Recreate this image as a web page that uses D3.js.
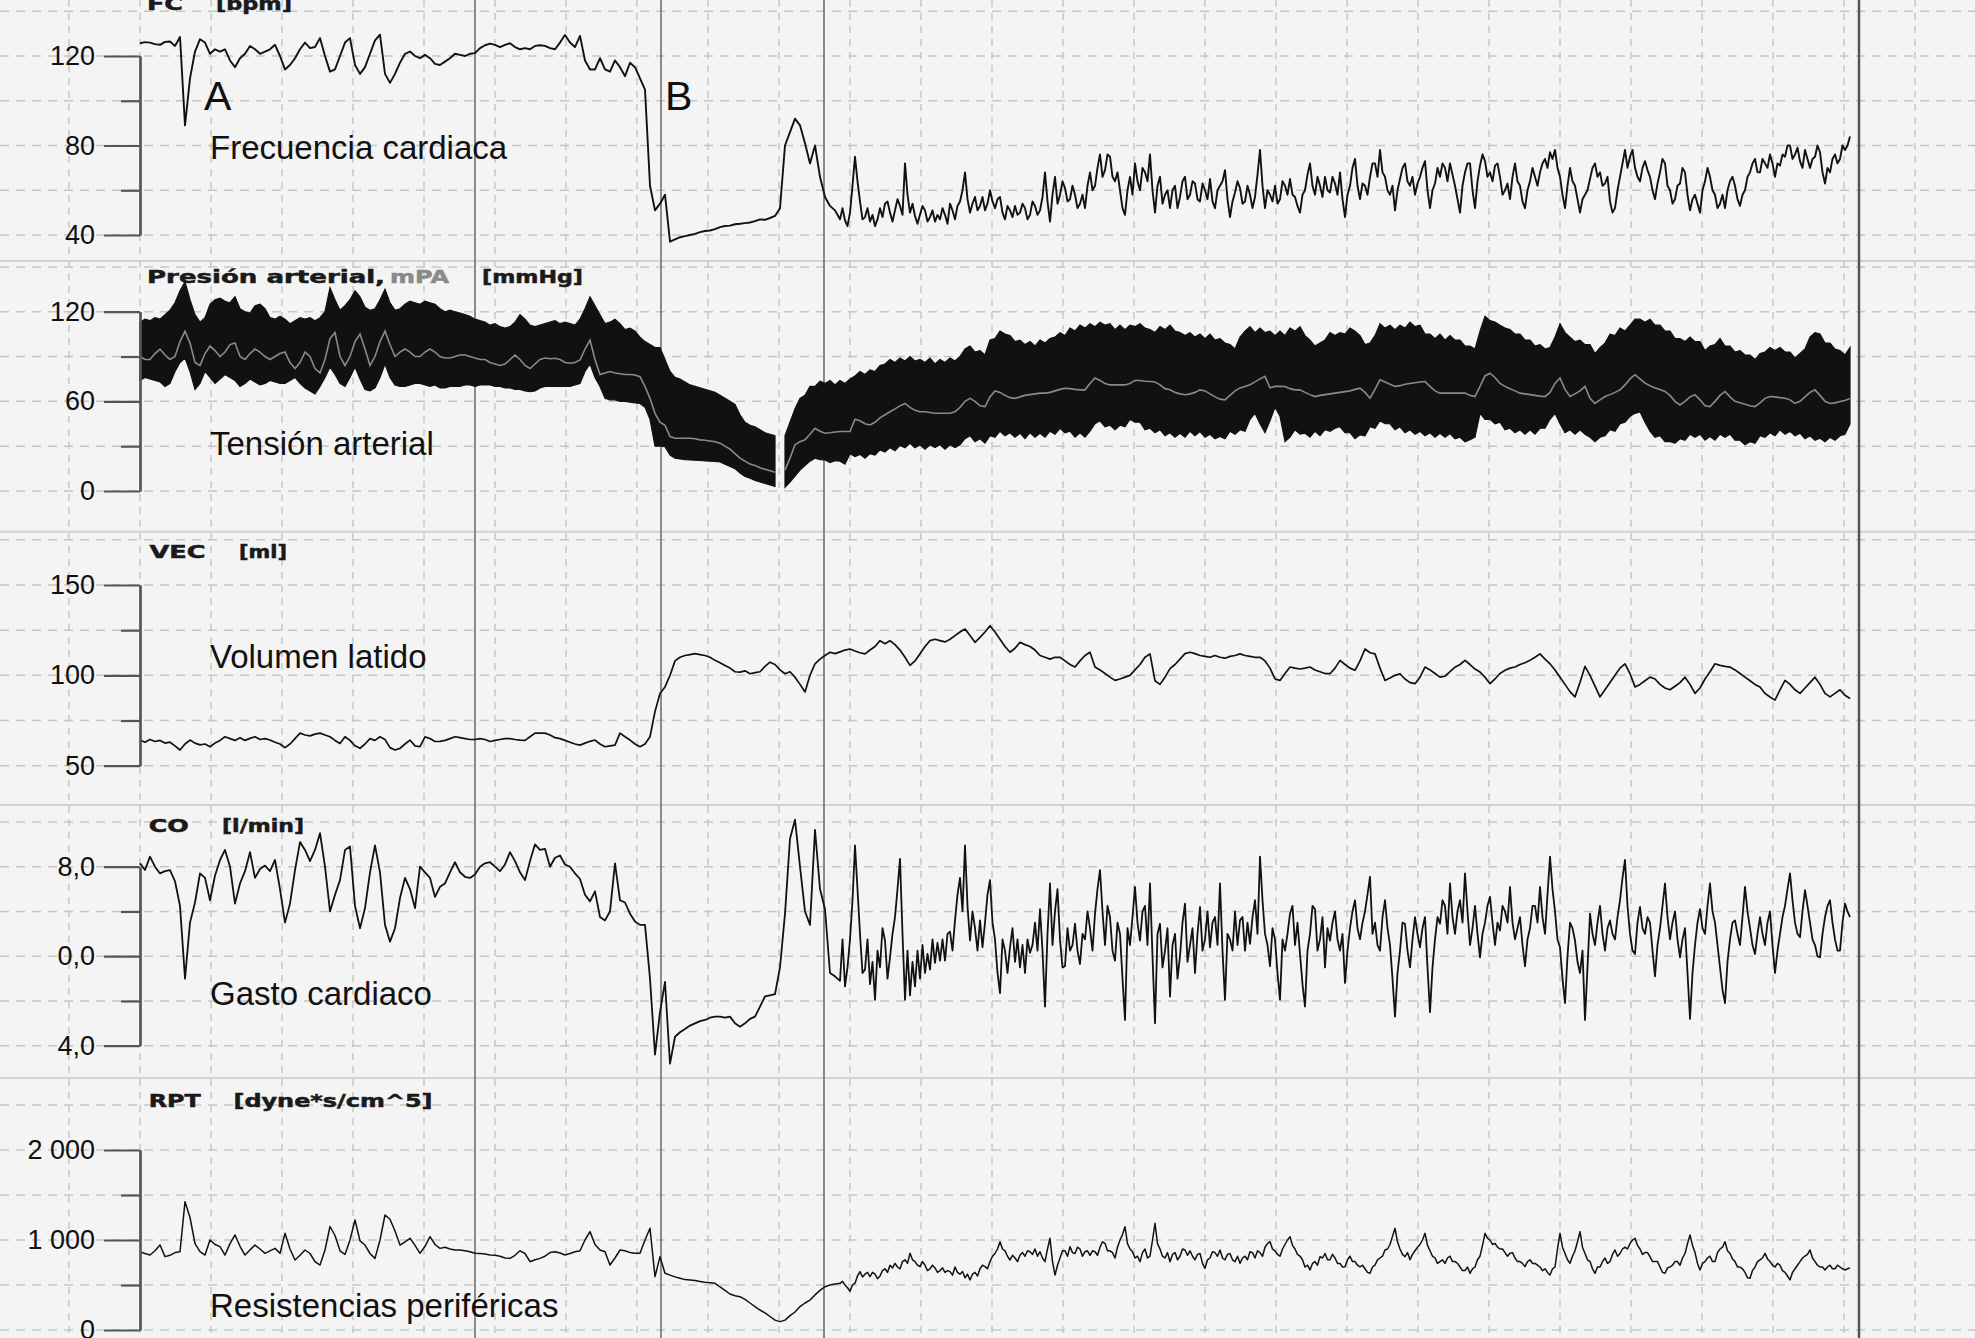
<!DOCTYPE html>
<html><head><meta charset="utf-8">
<script src="https://cdn.jsdelivr.net/npm/d3@7"></script>
<style>html,body{margin:0;padding:0;background:#f4f4f4;} svg{display:block;}</style>
</head><body>
<svg id="chart" width="1975" height="1338"></svg>
<script>
// ---------- DATA (one sample per time step) ----------
const fcValues = [
125.7,126.2,126,125.3,125,126.3,126.5,124.5,128.5,89,
110,122,127.5,126,121,123,122,123,118,115,
119,121,124.5,123,121,122,123,125,120,114,
116,119,123,126,123.5,124,128,120,113,114,
120,126,128,116,112,115,121,127,129.5,112,
108,112,117,121,122,120,119,120.5,119,116.5,
116,117.5,119,121,120.5,120,121,121.3,123.5,124.8,
125.5,125,124,125,125.7,124,123,123.5,123,124.5,
124.8,124.5,123.5,123,126,129.4,126,124,129,118,
114,114,119,114,113,118,115,111,117,115,
110,105,62,51,54,58,37,38,39,39.5,
40,40.5,41.3,41.8,42,42.6,43.5,44,44.2,44.8,
45,45.3,45.6,46.2,47,46.8,47.6,48.5,52,80,
86,92,89,81,72,80,66,57,53,51,
47,46.5,50,75,55,48,46,44,52,54,
50,51,53,72,50,48.5,49,51,48,46,
47,49,54,47,55,68,50,57,53,51,
60,52,57,47,51,53,50,52,49,53,
51,68,46,66,58,61,56,58,54,52,
68,62,76,69,75,64,60,49,66,72,
60,68,76,50,66,58,52,62,57,66,
58,63,55,60,65,52,62,69,48,59,
61,55,58,57,78,52,58,62,56,62,
65,57,50,60,72,58,62,66,59,63,
68,48,62,74,56,62,66,72,78,66,
58,51,65,72,62,58,66,73,52,63,
66,70,72,62,50,68,72,52,71,73,
68,71,66,60,56,72,62,52,64,66,
68,74,77,78,66,52,70,62,50,58,
65,72,68,63,55,52,66,78,75,70,
64,73,66,56,68,72,60,56,63,68,
51,58,50,64,66,58,54,52,64,62,
53,60,68,74,68,72,76,66,71,75,
80,76,73,78,70,75,77,63,68,76,
74,78,84];
// half-step readings in the dense part (from step 140 on)
const fcMid = [
52,44,62,64,47,52,49,47,48,55,
46,56,49,58,54,45,53,46,51,49,
52,45,51,53,60,56,54,51,57,54,
55,56,50,53,48,49,54,47,55,49,
57,55,58,54,64,55,62,52,58,62,
60,70,66,76,66,68,52,60,58,64,
70,64,60,62,54,60,60,52,64,56,
64,56,63,56,55,60,64,56,55,64,
54,62,52,67,62,60,55,54,64,58,
58,53,58,67,62,66,57,60,66,58,
56,58,70,62,63,58,72,66,68,60,
62,60,70,64,66,63,70,60,60,70,
72,64,67,56,62,72,60,64,76,66,
64,72,58,63,66,64,55,60,70,62,
72,70,74,70,58,62,64,56,56,60,
70,66,62,66,50,60,72,70,78,66,
70,69,60,63,74,62,54,62,70,58,
56,54,60,70,60,52,58,60,66,56,
58,66,72,68,74,70,72,72,76,80,
74,79,70,74,74,80,68,70,74,72,
80,80];

const paUpper = [
113,115,114,116,115,118,121,126,134,140,
128,118,113,116,125,128,129,127,126,130,
122,120,119,124,125,122,116,115,117,115,
112,114,116,115,116,114,116,120,136,128,
121,124,128,134,130,123,121,122,128,135,
126,121,122,125,127,126,125,127,126,125,
122,120,121,120,119,118,117,115,114,113,
111,112,110,109,110,113,118,115,111,110,
111,112,113,114,112,113,112,111,115,122,
130,124,118,112,113,115,112,108,109,107,
103,100,98,96,96,88,80,76,75,73,
71,70,69,68,67,66,64,62,60,58,
51,46,44,43,41,39,38,37,null,37,
46,55,62,64,70,70,73.5,72,74,71,
74,72,75,77,80,78,81,80,84,85,
88,86,89,87,90,87,88,86,89,85,
88,86,89,87,90,95,97,93,94,91,
101,102,107,105,104,100,101,98,100,97,
101,99,102,103,106,104,109,107,111,109,
112,110,113,111,112,108,111,108,111,110,
112,109,108,106,110,108,111,107,106,104,
106,103,105,102,105,101,102,99,98,95,
103,107,110,106,109,106,107,104,107,104,
109,107,110,104,101,97,99,101,106,104,
106,105,109,107,104,98,99,104,112,109,
111,108,111,109,113,110,111,105,105,102,
105,101,104,101,101,97,97,95,107,117,
114,113,111,109,108,105,105,101,101,97,
98,95,96,103,112,106,103,100,101,98,
98,92,96,99,105,104,109,107,111,115,
115,113,115,111,111,107,107,102,102,100,
103,100,100,94,97,98,102,97,97,93,
94,91,91,88,92,93,96,94,96,93,
93,89,92,95,103,106,105,99,99,95,
94,91,96];

const paLower = [
74,76,75,74,73,70,72,80,86,89,
80,68,72,80,76,72,75,78,76,74,
70,72,75,73,71,72,74,73,72,72,
74,76,72,69,67,65,70,76,83,78,
72,70,76,83,75,68,67,69,76,85,
76,71,70,70,71,72,72,71,70,71,
69,69,70,70,70,71,71,70,71,71,
71,70,70,69,69,68,68,67,66.5,67,
69,70,70,70,70,70,70,71,72,80,
85,76,70,62,61,61,60,60,59.5,59,
58.6,56,48,30,30,29.7,24,21.9,21.5,21,
20.8,20.6,20.4,20.2,20,19.8,19.5,18,16.5,15,
12,9.7,8.5,7,6,5,4,3,null,2.5,
6,10,14,17,20,22,21,20.8,19,20.3,
20,18,25,23,24.5,22,25,24,27.5,26,
29,27,30.5,29,32,29,31,28,31,29,
31,28,31,29,31,35,37,33,35,32,
37,36,40,37,39,36,38.7,35,39,36,
38.7,36,40,38,42,39,40,36,39,36,
40,45,47,43,44,41,44,43,48,46,
46,41,42,39,41,37,39,36,38.7,36,
40,37,39.8,36,38,35,36.5,35,40,38,
41,40,48,52,45,39,47,56,50,33,
36,41,38,38.7,36,40,37,41,40,42,
43,39,39,35,37.6,37,43,42,47,45,
45,41,43,39,41,38,40,37,39,36,
38.7,36,38.5,35,36,33,34.3,36,52,48,
48,45,46,41,42,39,41,38,41,38,
42,42,48,52,45,39,41,38,41,38,
36,33,36,37,41,40,45,46,50,52,
53,46,40,36,37,33,33,32,35,34,
38,36,38,34,36.5,34,38,36,38,34,
34,31,33,32,37,36,39,37,41,38,
40,37,38.7,35,37,34,35.3,33,36,34,
37,38,45];

const paMean = [
90,88,88,92,95,91,88,90,100,107,
99,86,84,92,97,94,90,93,98,99,
90,88,92,95,93,90,88,90,92,93,
86,82,86,93,90,82,79,88,102,106,
90,84,90,100,105,95,84,90,100,107,
98,90,93,95,93,90,90,93,95,93,
90,89,89,90,91,91,90,89,88,88,
86,85,84,85,88,91,88,84,82,85,
88,89,88.5,88.8,88,86,85.5,86,87.7,95,
101,88,78,79,80,79,78.5,78,78,77.6,
76.5,70,62,52,46,44,36.4,35.3,35.3,35.3,
35.3,35,34.2,34,33.5,33,32,30,28,25,
22,20,18,17,15.5,14.5,13.5,12.5,null,14,
22,31,33,34.3,38,42,40,38.7,39,39.5,
39.8,39.8,39.8,48,47,45,44.2,46,49,51,
53,55,57,58.6,56,54,53,53,52.5,52,
52,52,52,53,56,60,62,60,57,56.5,
63,67,66,64,62.5,62,63,64,64.5,65,
65.5,65.5,66,67,68,68.8,68.5,68,67.7,67.7,
72,75.6,74,72,71,71,71,71,72,74,
74,73.5,73.3,73,71,68.5,67.7,66,65,64.4,
65,66,67.7,67,65,63,61.5,61,64,67,
69,70,71.1,73,75,76.7,69,70,70,69.9,
68.5,67.7,67.7,66,64.5,63.2,64,64.5,65,65.5,
66,66.5,67,68,68.8,66,62.1,68,74.4,73,
71.5,70,70.5,71.5,72,72.5,73,73.3,70,67,
65.5,65.5,65.5,65.5,65.5,65.5,64,63.2,70,77,
78.8,76,72,70,68.5,67,65.5,65,64.5,64,
63.5,63.2,66,72,75.6,68,63.2,65,67,70,
62,58.6,61,63.2,64.5,66,67.7,71,75,77.8,
75,72.2,70.5,69,68,66.6,64,60,57.6,60,
63,64.4,61,57,56.5,60,64,66.6,63,60,
59,58,57,56.5,59,62,63.2,63,62.5,62.1,
61,58.6,60,63,66,67.7,64,60,58.6,59,
59.9,60.5,62];

const vecValues = [
64.2,63,64.5,63.4,64,62.5,63,61,58.7,62,
64.2,62.5,61.5,62,60.5,62.5,64,66,65,64,
65.5,64,65.1,66,64.5,65,64.2,63,62,60,
62,65,68,67,66.5,67.5,68,67,66,64,
62.3,66,64,61,59.6,62,65,64,66,64.5,
60,58.7,59.6,62,64.2,61,60.5,66,65,63.4,
63.5,64,65,66,65.5,65,64.5,64.5,65,64.5,
63.4,64,64.5,65,65,64.5,64.2,64,66,68,
68,68,67,65.5,65,64,63,62,61.4,62.5,
63.5,64.2,62,60.5,61,61.4,68,66,64.2,62,
60.5,62,66,80,90,93.6,100,108,110,111,
111.5,112,111.5,111,110,108.3,107,105.5,104,102,
101.8,102.5,100.9,101.5,102,105,107.3,106,103,100.9,
102,99,95,90.8,100,106.4,109,111,112.8,112,
113,114,114.6,113.5,112.5,111.9,114,116,119.2,117.5,
119.2,117,114,110,105.5,108,112,116,119.2,120,
119.2,118.5,120,122,124,125.7,122,118.3,121,124,
127.5,124,120,116,112.8,115,118.3,117,116,114,
111,110,109,110,110,108,106,104.6,108,111,
112.8,104.6,103,101,99,97.2,98,99,100,103,
106,110,111.9,97,95,99,103.7,106,109,112,
112.8,112,111,110.5,110,111,110,109.5,110.5,111,
111.9,111,110.5,110,110,108,104,98,97.2,101,
104.6,104,103.5,104,104.6,103,102,101,100.9,104,
108.3,106,104,102.8,108,114.6,112.5,111.9,104,97.2,
98.5,100,100.9,98,96,95.4,99,104.6,103,101,
99,99.5,102,104.5,106,108.3,106,103.5,101.8,99,
95.4,98,101,102.8,104,104.6,106,107,108.3,110,
111.9,109,106.4,103,99,95,91,88.1,96,105,
100,94,88.1,92,96,100,104,106.4,101,93.6,
95,97,99,98,95,93,92,94,96,99,
95,90,93,98,102,106.4,105.5,105,104.6,103,
101,99,97,95,93.6,90,88,86.3,92,97.2,
95,92,90,93,96,99,95,90,88.1,90,
92,89,87.2];

const coValues = [
8.3,7.7,8.9,8.0,7.4,7.6,7.7,6.7,4.5,-2.0,
3.0,4.8,7.4,7.0,5.0,7.2,8.6,9.5,8.0,4.7,
6.5,7.6,9.3,7.0,7.8,8.1,7.6,8.6,6.0,3.0,
4.7,7.7,10.2,9.5,8.5,9.5,11.0,8.0,4.0,5.5,
6.8,9.5,9.8,4.5,2.5,4.3,7.5,9.9,7.5,2.8,
1.3,2.5,5.2,7.0,6.0,4.3,8.0,7.5,7.0,5.3,
6.2,6.5,7.5,8.4,7.5,7.1,7.0,7.3,8.0,8.3,
8.4,8.0,7.6,8.2,9.3,8.5,7.5,6.8,8.5,10.0,
9.5,9.6,8.0,8.8,9.0,8.2,8.0,7.4,6.9,5.5,
4.9,5.8,3.5,3.2,4.0,8.3,5.0,4.8,3.8,3.1,
2.8,2.8,-2.0,-8.8,-5.0,-2.3,-9.6,-7.2,-6.8,-6.5,
-6.2,-6.0,-5.8,-5.7,-5.5,-5.4,-5.4,-5.5,-5.4,-6.0,
-6.3,-6.0,-5.6,-5.4,-4.5,-3.6,-3.5,-3.4,-1.0,3.8,
10.5,12.2,8.0,4.0,2.8,11.3,6.0,4.2,-1.5,-1.8,
-2.2,-2.7,1.5,9.9,2.0,-1.2,-2.5,-3.9,-1.0,1.4,
-0.1,3.5,8.7,-3.9,-3.5,-2.7,-2.0,-1.5,-1.2,-0.6,
-0.4,-0.4,2.2,3.2,7.0,9.9,1.4,2.5,3.2,3.0,
6.8,1.5,-3.3,0.5,0.8,-0.5,-1.0,-1.5,0.3,3.0,
4.2,-4.5,6.5,4.0,1.5,-0.9,0.5,2.9,-0.7,1.5,
2.5,3.8,7.7,1.0,3.5,-0.4,2.0,-5.7,1.0,6.2,
1.4,4.5,6.5,-6.0,2.9,0.5,-3.6,2.0,0.0,4.7,
1.0,-1.5,4.4,1.5,0.8,3.5,6.5,-3.9,1.5,4.0,
3.2,0.5,1.1,5.0,8.9,2.0,-0.9,1.5,-3.9,0.5,
3.8,1.0,0.2,-4.5,2.0,4.2,1.5,-1.0,1.4,4.0,
0.5,-2.4,2.5,5.0,1.5,4.0,7.1,3.0,0.5,5.0,
1.0,-5.4,0.5,2.9,-1.0,3.5,0.8,3.5,-5.0,1.5,
2.9,4.5,6.5,2.0,5.0,7.4,1.0,4.5,-0.1,3.0,
5.3,1.0,2.3,4.0,6.2,1.5,3.5,-0.9,2.5,4.5,
6.2,2.0,8.9,4.0,0.8,-4.2,3.0,1.4,-1.5,-5.7,
3.8,1.0,4.5,0.5,3.2,1.5,5.0,8.6,2.0,0.2,
4.4,2.0,3.0,-1.8,2.5,6.5,1.5,4.0,-0.1,2.5,
-5.6,1.0,4.2,2.0,6.5,3.0,-1.0,-4.2,1.5,3.2,
1.0,6.2,2.5,0.2,3.5,1.0,4.0,-1.5,2.0,4.5,
7.4,3.0,1.7,5.9,3.0,1.0,-0.1,3.5,5.0,1.5,
0.5,4.7,3.5];
const coMid = [
1.5,-1.0,5.0,6.0,-1.5,1.5,-0.5,0.5,2.5,-2.0,
2.0,6.0,2.0,0.5,-0.5,0.5,1.0,0.2,1.5,1.2,
1.5,2.0,0.5,5.5,4.0,4.5,4.0,0.5,0.8,5.5,
3.0,-1.5,1.5,-1.5,2.5,1.5,1.0,1.5,1.0,0.5,
0.5,2.0,1.0,6.0,-1.0,2.5,1.0,0.5,2.0,4.0,
0.5,6.0,4.0,4.5,0.5,3.0,-2.0,2.5,3.5,3.0,
4.0,1.0,0.0,2.0,-1.0,2.5,1.0,-2.0,3.0,-0.5,
2.5,2.0,0.5,4.0,3.0,1.0,0.5,2.0,0.5,1.0,
3.5,3.0,3.5,2.0,5.0,1.0,2.5,-1.5,1.5,2.0,
4.5,3.0,-2.5,0.5,4.5,0.5,3.5,2.5,3.0,1.5,
2.0,0.5,4.0,2.5,3.0,5.5,2.0,1.0,3.5,2.5,
-2.0,-1.5,3.0,0.5,1.5,2.0,2.5,-1.0,-1.0,3.5,
5.0,2.0,3.5,4.0,3.0,4.0,2.5,2.0,2.0,4.5,
3.0,3.0,4.5,3.0,3.0,2.5,1.0,1.5,4.5,3.0,
3.5,5.5,6.0,1.5,-2.0,0.0,2.5,-0.5,0.5,-1.0,
2.0,3.0,2.0,2.5,2.0,3.5,7.0,4.5,0.5,3.0,
2.5,3.5,0.5,1.0,4.5,3.5,3.0,1.5,1.5,-1.5,
-1.5,3.0,2.5,4.5,4.0,1.0,-3.0,-0.5,3.0,2.0,
3.5,4.0,1.0,2.0,2.0,3.0,1.0,0.5,3.5,6.0,
5.0,2.0,4.0,4.5,1.5,0.0,2.0,4.5,3.0,0.5,
3.0,4.0];

const rptValues = [
870,850,833,880,944,815,830,860,870,1426,
1250,960,870,833,1000,950,926,833,960,1056,
930,833,890,944,900,852,880,907,852,1074,
900,778,830,889,850,760,722,889,1150,1050,
880,840,1000,1222,990,944,850,796,1000,1278,
1230,1100,944,980,1019,940,852,930,1037,950,
907,920,900,890,889,880,870,852,850,845,
833,830,820,800,796,830,880,850,759,780,
796,820,860,870,855,833,850,870,880,1000,
1093,950,889,870,722,800,889,880,860,852,
852,1000,1130,593,815,630,610,590,575,560,
556,550,540,530,525,519,480,440,400,380,
370,340,300,260,222,190,150,110,93,110,
160,200,260,300,333,390,440,481,500,510,
519,500,430,520,648,620,593,620,600,680,
720,741,680,780,852,760,704,720,680,690,
660,640,648,700,620,580,556,640,680,704,
760,850,981,880,778,800,830,820,870,900,
870,760,1019,611,800,880,926,850,900,870,
830,870,920,963,880,800,1000,1148,900,800,
759,900,820,1185,900,800,759,860,820,889,
880,780,850,685,800,860,889,780,850,760,
741,820,870,800,860,920,981,880,820,950,
1037,900,820,700,667,760,815,850,780,800,
740,704,820,760,700,680,630,720,800,889,
950,1130,900,815,780,880,950,1074,880,800,
760,741,820,760,700,660,630,700,820,1074,
1000,963,900,860,852,800,760,704,780,740,
700,680,611,700,1074,850,741,880,1093,850,
760,630,700,800,760,889,850,920,960,1019,
900,860,815,760,700,630,700,760,720,850,
1056,860,667,760,820,760,900,981,850,760,
700,640,574,700,780,852,760,700,720,640,
556,680,760,820,889,760,700,667,720,680,
700,667,690];
const rptMid = [
540,470,500,600,590,640,640,570,660,640,
690,700,760,740,780,720,760,660,720,640,
690,660,610,640,650,620,620,600,720,680,
820,900,900,820,830,760,860,880,840,820,
800,900,760,720,880,820,860,920,820,880,
880,830,980,880,860,920,1060,960,870,820,
860,800,1000,960,820,860,840,780,900,830,
820,840,740,780,870,820,800,840,780,820,
800,780,860,880,820,960,900,840,900,1000,
940,840,780,720,740,720,800,780,840,740,
700,780,760,720,720,640,700,780,820,900,
1040,980,840,860,840,920,1000,940,820,740,
780,800,760,740,660,700,680,780,940,1020,
950,920,900,820,860,760,740,760,740,720,
660,640,680,900,920,780,820,980,920,780,
680,700,760,740,840,820,900,900,1000,940,
840,860,760,760,640,690,720,760,800,960,
940,740,740,800,760,860,920,880,790,700,
680,580,660,760,800,790,720,740,660,600,
640,720,800,840,800,720,700,700,680,720,
680,680];
const midStart = 140; // first time step followed by a half-step reading

// event markers (time steps)
const eventTimes = [67, 104.2, 136.8, 343.8];

// axis ticks
const fcTicks = [40, 80, 120], fcTickLabels = ["40", "80", "120"], fcMinor = [60, 100];
const paTicks = [0, 60, 120], paTickLabels = ["0", "60", "120"], paMinor = [30, 90];
const vecTicks = [50, 100, 150], vecTickLabels = ["50", "100", "150"], vecMinor = [75, 125];
const coTicks = [-8, 0, 8], coTickLabels = ["4,0", "0,0", "8,0"], coMinor = [-4, 4];
const rptTicks = [0, 1000, 2000], rptTickLabels = ["0", "1 000", "2 000"], rptMinor = [500, 1500];

// grid values per panel
const fcGrid = [40, 60, 80, 100, 120, 140];
const paGrid = [0, 30, 60, 90, 120, 150];
const vecGrid = [50, 75, 100, 125, 150, 175];
const coGrid = [-8, -4, 0, 4, 8, 12];
const rptGrid = [0, 500, 1000, 1500, 2000, 2500];

// ---------- LAYOUT ----------
const W = 1975, H = 1338;
const svg = d3.select("#chart");
const x = d3.scaleLinear().domain([0, fcValues.length - 1]).range([140, 1850]);
const gridStep = 14.2, gridStart = -28.4;

const panels = [
  {y: d3.scaleLinear().domain([40, 120]).range([235, 56]), ticks: fcTicks, labels: fcTickLabels, minor: fcMinor, grid: fcGrid,
   header: [{t: "FC", x: 147, len: 36}, {t: "[bpm]", x: 216, len: 76}], headerY: 10,
   title: "Frecuencia cardiaca", titleY: 159},
  {y: d3.scaleLinear().domain([0, 120]).range([491, 311.7]), ticks: paTicks, labels: paTickLabels, minor: paMinor, grid: paGrid,
   header: [{t: "Presión arterial,", x: 147, len: 238}, {t: "mPA", x: 390, len: 59, c: "#8a8a8a"}, {t: "[mmHg]", x: 482, len: 101}], headerY: 283,
   title: "Tensión arterial", titleY: 455},
  {y: d3.scaleLinear().domain([50, 150]).range([765.7, 585]), ticks: vecTicks, labels: vecTickLabels, minor: vecMinor, grid: vecGrid,
   header: [{t: "VEC", x: 149.5, len: 56}, {t: "[ml]", x: 239, len: 48}], headerY: 558,
   title: "Volumen latido", titleY: 668},
  {y: d3.scaleLinear().domain([-8, 8]).range([1045.7, 866.7]), ticks: coTicks, labels: coTickLabels, minor: coMinor, grid: coGrid,
   header: [{t: "CO", x: 148.7, len: 40}, {t: "[l/min]", x: 222, len: 82}], headerY: 832,
   title: "Gasto cardiaco", titleY: 1005},
  {y: d3.scaleLinear().domain([0, 2000]).range([1330, 1150]), ticks: rptTicks, labels: rptTickLabels, minor: rptMinor, grid: rptGrid,
   header: [{t: "RPT", x: 148.7, len: 52}, {t: "[dyne*s/cm^5]", x: 233.5, len: 199}], headerY: 1107,
   title: "Resistencias periféricas", titleY: 1317}
];
const separators = [261, 531.7, 805, 1078];

svg.append("rect").attr("width", W).attr("height", H).attr("fill", "#f4f4f4");

// vertical dashed grid
const gridTimes = d3.range(gridStart, 400, gridStep).filter(t => x(t) <= W);
svg.append("g").selectAll("line").data(gridTimes).join("line")
  .attr("x1", d => x(d)).attr("x2", d => x(d)).attr("y1", 0).attr("y2", H)
  .attr("stroke", "#c6c6c6").attr("stroke-width", 1.5).attr("stroke-dasharray", "7,6");

// horizontal dashed grid
panels.forEach(p => {
  svg.append("g").selectAll("line").data(p.grid).join("line")
    .attr("x1", 0).attr("x2", W).attr("y1", d => p.y(d)).attr("y2", d => p.y(d))
    .attr("stroke", "#c6c6c6").attr("stroke-width", 1.5).attr("stroke-dasharray", "9,7");
});

// separators
svg.append("g").selectAll("line").data(separators).join("line")
  .attr("x1", 0).attr("x2", W).attr("y1", d => d).attr("y2", d => d)
  .attr("stroke", "#d2d2d2").attr("stroke-width", 2);

// event lines
svg.append("g").selectAll("line").data(eventTimes).join("line")
  .attr("x1", d => x(d)).attr("x2", d => x(d)).attr("y1", 0).attr("y2", H)
  .attr("stroke", (d, i) => i === eventTimes.length - 1 ? "#555" : "#707070")
  .attr("stroke-width", (d, i) => i === eventTimes.length - 1 ? 2.5 : 1.6);

// merge full-step samples and half-step readings into one time-ordered series
function series(vals, mids) {
  const pts = vals.map((v, i) => ({t: i, v}));
  if (mids) mids.forEach((v, j) => pts.push({t: midStart + 0.5 + j, v}));
  return pts.sort((a, b) => a.t - b.t);
}
function trace(pts, y, width) {
  const line = d3.line().defined(d => d.v != null).x(d => x(d.t)).y(d => y(d.v));
  svg.append("path").datum(pts).attr("d", line)
    .attr("fill", "none").attr("stroke", "#111").attr("stroke-width", width)
    .attr("stroke-linejoin", "round");
}
trace(series(fcValues, fcMid), panels[0].y, 1.9);

// pressure band
const yPA = panels[1].y;
const band = paUpper.map((u, i) => ({i, u, l: paLower[i]}));
const area = d3.area().defined(d => d.u != null && d.l != null)
  .x(d => x(d.i)).y0(d => yPA(d.l)).y1(d => yPA(d.u));
svg.append("path").datum(band).attr("d", area)
  .attr("fill", "#111").attr("stroke", "#111").attr("stroke-width", 1.2);
trace; // mean line in grey
const meanLine = d3.line().defined(d => d != null).x((d, i) => x(i)).y(d => yPA(d));
svg.append("path").datum(paMean).attr("d", meanLine)
  .attr("fill", "none").attr("stroke", "#8a8a8a").attr("stroke-width", 1.6);

trace(series(vecValues), panels[2].y, 1.7);
trace(series(coValues, coMid), panels[3].y, 1.8);
trace(series(rptValues, rptMid), panels[4].y, 1.5);

// axes
panels.forEach(p => {
  const gMinor = svg.append("g").attr("transform", `translate(${x(0)},0)`)
    .call(d3.axisLeft(p.y).tickValues(p.minor).tickSize(19).tickSizeOuter(0).tickFormat(""));
  const gMajor = svg.append("g").attr("transform", `translate(${x(0)},0)`)
    .call(d3.axisLeft(p.y).tickValues(p.ticks).tickSize(36).tickSizeOuter(0).tickPadding(9)
      .tickFormat((d, i) => p.labels[i]));
  [gMinor, gMajor].forEach(g => {
    g.selectAll("path,line").attr("stroke", "#555").attr("stroke-width", 2.2);
  });
  gMajor.selectAll("text").attr("font-family", "'Liberation Sans', Arial, sans-serif")
    .attr("font-size", 27).attr("fill", "#111");

  // header (small bold)
  p.header.forEach(h => {
    svg.append("text").attr("x", h.x).attr("y", p.headerY).text(h.t)
      .attr("font-family", "'DejaVu Sans', Verdana, sans-serif").attr("font-weight", "bold")
      .attr("font-size", 17).attr("fill", h.c || "#1a1a1a")
      .attr("stroke", h.c || "#1a1a1a").attr("stroke-width", 0.5)
      .attr("textLength", h.len).attr("lengthAdjust", "spacingAndGlyphs");
  });
  // title
  svg.append("text").attr("x", 210).attr("y", p.titleY).text(p.title)
    .attr("font-family", "'Liberation Sans', Arial, sans-serif").attr("font-size", 33).attr("fill", "#111");
});

// markers A / B
[{t: "A", x: 204}, {t: "B", x: 665}].forEach(m => {
  svg.append("text").attr("x", m.x).attr("y", 110).text(m.t)
    .attr("font-family", "'Liberation Sans', Arial, sans-serif").attr("font-size", 41).attr("fill", "#111");
});
</script>
</body></html>
